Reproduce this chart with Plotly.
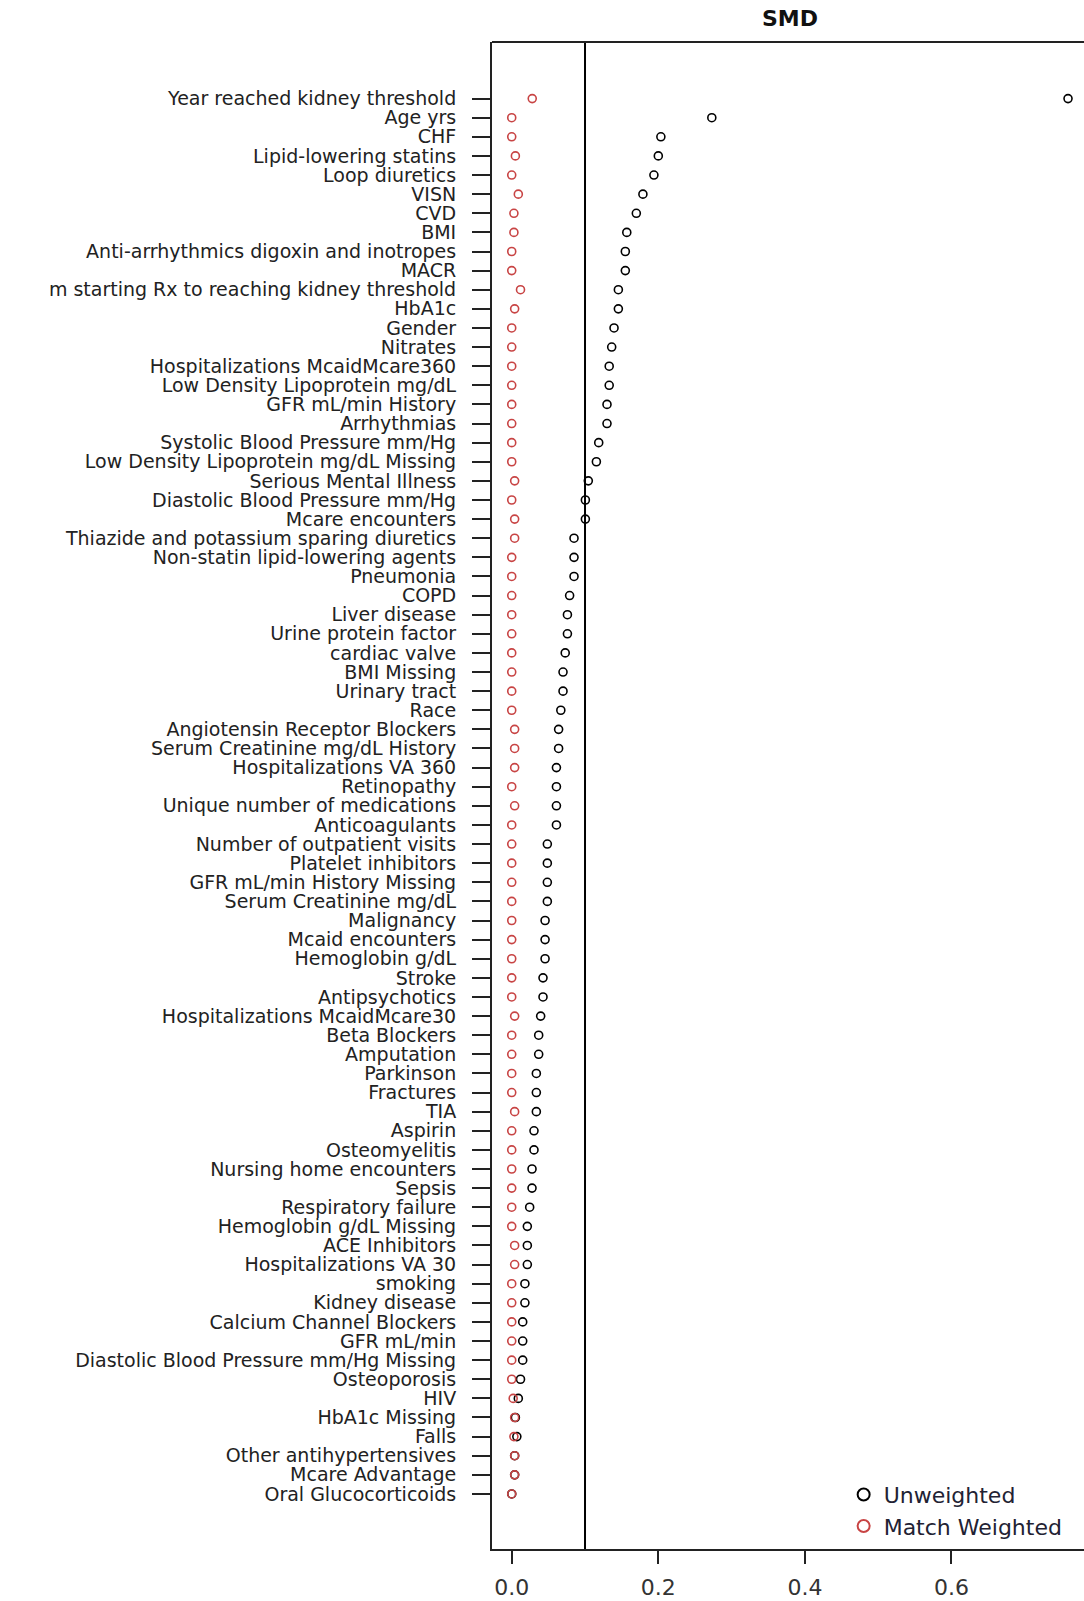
import plotly.graph_objects as go

covariates = [
    "Year reached kidney threshold", "Age yrs", "CHF", "Lipid-lowering statins",
    "Loop diuretics", "VISN", "CVD", "BMI", "Anti-arrhythmics digoxin and inotropes",
    "MACR", "m starting Rx to reaching kidney threshold", "HbA1c", "Gender", "Nitrates",
    "Hospitalizations McaidMcare360", "Low Density Lipoprotein mg/dL", "GFR mL/min History",
    "Arrhythmias", "Systolic Blood Pressure mm/Hg", "Low Density Lipoprotein mg/dL Missing",
    "Serious Mental Illness", "Diastolic Blood Pressure mm/Hg", "Mcare encounters",
    "Thiazide and potassium sparing diuretics", "Non-statin lipid-lowering agents",
    "Pneumonia", "COPD", "Liver disease", "Urine protein factor", "cardiac valve",
    "BMI Missing", "Urinary tract", "Race", "Angiotensin Receptor Blockers",
    "Serum Creatinine mg/dL History", "Hospitalizations VA 360", "Retinopathy",
    "Unique number of medications", "Anticoagulants", "Number of outpatient visits",
    "Platelet inhibitors", "GFR mL/min History Missing", "Serum Creatinine mg/dL",
    "Malignancy", "Mcaid encounters", "Hemoglobin g/dL", "Stroke", "Antipsychotics",
    "Hospitalizations McaidMcare30", "Beta Blockers", "Amputation", "Parkinson",
    "Fractures", "TIA", "Aspirin", "Osteomyelitis", "Nursing home encounters", "Sepsis",
    "Respiratory failure", "Hemoglobin g/dL Missing", "ACE Inhibitors",
    "Hospitalizations VA 30", "smoking", "Kidney disease", "Calcium Channel Blockers",
    "GFR mL/min", "Diastolic Blood Pressure mm/Hg Missing", "Osteoporosis", "HIV",
    "HbA1c Missing", "Falls", "Other antihypertensives", "Mcare Advantage",
    "Oral Glucocorticoids",
]

unweighted = [
    0.759, 0.273, 0.2035, 0.200, 0.194, 0.179, 0.170, 0.157, 0.155, 0.155,
    0.1455, 0.1455, 0.1396, 0.1364, 0.133, 0.133, 0.130, 0.130, 0.1187, 0.1155,
    0.1045, 0.1005, 0.1005, 0.085, 0.085, 0.085, 0.079, 0.076, 0.076, 0.073,
    0.070, 0.070, 0.067, 0.064, 0.064, 0.061, 0.061, 0.061, 0.061, 0.0486,
    0.0486, 0.0486, 0.0486, 0.0455, 0.0455, 0.0455, 0.0427, 0.0427, 0.0395, 0.0368,
    0.0368, 0.0336, 0.0336, 0.0336, 0.0304, 0.0304, 0.0277, 0.0277, 0.0245, 0.0213,
    0.0213, 0.0213, 0.018, 0.018, 0.015, 0.015, 0.015, 0.012, 0.009, 0.005,
    0.007, 0.004, 0.004, 0.000,
]

match_weighted = [
    0.028, 0.000, 0.000, 0.005, 0.000, 0.009, 0.003, 0.003, 0.000, 0.000,
    0.012, 0.004, 0.000, 0.000, 0.000, 0.000, 0.000, 0.000, 0.000, 0.000,
    0.004, 0.000, 0.004, 0.004, 0.000, 0.000, 0.000, 0.000, 0.000, 0.000,
    0.000, 0.000, 0.000, 0.004, 0.004, 0.004, 0.000, 0.004, 0.000, 0.000,
    0.000, 0.000, 0.000, 0.000, 0.000, 0.000, 0.000, 0.000, 0.004, 0.000,
    0.000, 0.000, 0.000, 0.004, 0.000, 0.000, 0.000, 0.000, 0.000, 0.000,
    0.004, 0.004, 0.000, 0.000, 0.000, 0.000, 0.000, 0.000, 0.002, 0.004,
    0.003, 0.004, 0.004, 0.000,
]

threshold = 0.1
x_tickvals = [0.0, 0.2, 0.4, 0.6]
x_ticktext = ["0.0", "0.2", "0.4", "0.6"]
title_text = "SMD"

FONT = "DejaVu Sans"
RED = "#c84444"

fig = go.Figure()
fig.add_trace(go.Scatter(
    x=unweighted, y=covariates, mode="markers", name="Unweighted",
    marker=dict(symbol="circle-open", size=8, color="black", line=dict(width=1.6)),
))
fig.add_trace(go.Scatter(
    x=match_weighted, y=covariates, mode="markers", name="Match Weighted",
    marker=dict(symbol="circle-open", size=8, color=RED, line=dict(width=1.6)),
))

n = len(covariates)
fig.update_layout(
    width=1084, height=1601,
    margin=dict(l=492, r=0, t=42, b=52, autoexpand=False),
    paper_bgcolor="white", plot_bgcolor="white",
    font=dict(family=FONT, color="#222222"),
    title=dict(text="<b>" + title_text + "</b>", x=790 / 1084, xanchor="center",
               y=1 - 18 / 1601, yanchor="middle",
               font=dict(family=FONT, size=22, color="#111111")),
    showlegend=True,
    legend=dict(
        x=0.594, xanchor="left", y=0.050, yanchor="top",
        bgcolor="white", borderwidth=0,
        font=dict(family=FONT, size=22, color="#222233"),
        itemsizing="constant", tracegroupgap=0,
    ),
    shapes=[
        dict(type="line", xref="x", yref="paper", x0=threshold, x1=threshold,
             y0=0, y1=1, line=dict(color="black", width=2)),
        dict(type="line", xref="paper", yref="paper", x0=0, x1=1, y0=1, y1=1,
             line=dict(color="#222222", width=2)),
    ],
)

fig.update_xaxes(
    range=[-0.0269, 0.7808], showgrid=False, zeroline=False,
    showline=True, linecolor="#222222", linewidth=2,
    tickmode="array", tickvals=x_tickvals, ticktext=x_ticktext,
    ticks="outside", ticklen=13, tickwidth=1.5, tickcolor="#222222",
    tickfont=dict(family=FONT, size=22, color="#333333"),
    ticklabelstandoff=5,
)
fig.update_yaxes(
    type="category", categoryorder="array", categoryarray=covariates,
    tickmode="array", tickvals=covariates, ticktext=covariates,
    range=[n - 1 + 2.88, -2.96], showgrid=False, zeroline=False,
    showline=True, linecolor="#222222", linewidth=2,
    ticks="outside", ticklen=18, tickwidth=1.5, tickcolor="#222222",
    tickfont=dict(family=FONT, size=19, color="#222222"),
    ticklabelstandoff=12,
)

fig.write_html("out.html")
